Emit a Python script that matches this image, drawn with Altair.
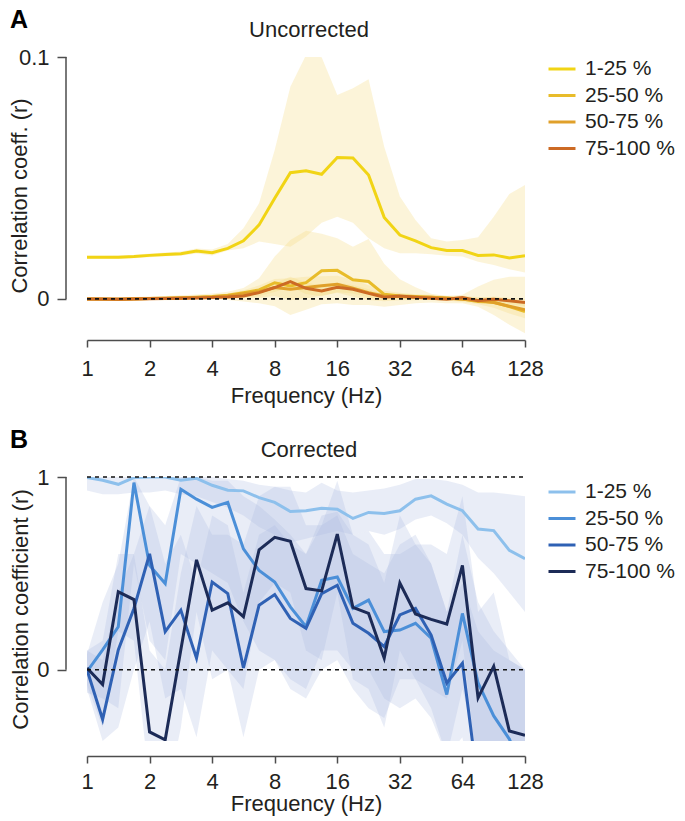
import altair as alt
import pandas as pd

FONT = "Liberation Sans"

FREQ = [1, 1.189, 1.414, 1.682, 2, 2.378, 2.828, 3.364, 4, 4.757, 5.657, 6.727,
        8, 9.514, 11.314, 13.454, 16, 19.027, 22.627, 26.909, 32, 38.055, 45.255,
        53.817, 64, 76.109, 90.510, 107.635, 128]
GROUPS = ["1-25 %", "25-50 %", "50-75 %", "75-100 %"]
X_TICKS = [1, 2, 4, 8, 16, 32, 64, 128]

# ---------- A: Uncorrected ----------
U_R1 = [0.0172, 0.0172, 0.0172, 0.0175, 0.0180, 0.0184, 0.0187, 0.0198, 0.0191, 0.0209, 0.0240, 0.0306, 0.0416, 0.0522, 0.0530,
        0.0515, 0.0585, 0.0583, 0.0512, 0.0337, 0.0264, 0.0240, 0.0212, 0.0200, 0.0200, 0.0180, 0.0182, 0.0169, 0.0178]
U_HI1 = [0.0178, 0.0178, 0.0179, 0.0182, 0.0188, 0.0192, 0.0196, 0.0208, 0.0204, 0.0227, 0.0292, 0.0395, 0.0616, 0.0877, 0.1008,
         0.0999, 0.0843, 0.0871, 0.0908, 0.0629, 0.0423, 0.0326, 0.0251, 0.0237, 0.0244, 0.0255, 0.0340, 0.0434, 0.0471]
U_LO1 = [0.0166, 0.0166, 0.0165, 0.0168, 0.0172, 0.0176, 0.0178, 0.0188, 0.0180, 0.0200, 0.0209, 0.0237, 0.0227, 0.0216, 0.0258,
         0.0315, 0.0340, 0.0315, 0.0251, 0.0209, 0.0189, 0.0189, 0.0185, 0.0178, 0.0175, 0.0154, 0.0140, 0.0123, 0.0109]

U_R2 = [0.0000, 0.0000, -0.0002, 0.0000, 0.0002, 0.0003, 0.0005, 0.0007, 0.0010, 0.0015, 0.0026, 0.0037, 0.0067, 0.0054, 0.0067,
        0.0116, 0.0118, 0.0079, 0.0072, 0.0019, 0.0012, 0.0010, 0.0007, 0.0004, 0.0000, -0.0011, -0.0014, -0.0032, -0.0052]
U_HI2 = [0.0006, 0.0006, 0.0005, 0.0008, 0.0010, 0.0012, 0.0015, 0.0018, 0.0022, 0.0030, 0.0045, 0.0085, 0.0175, 0.0244, 0.0282,
         0.0269, 0.0251, 0.0216, 0.0248, 0.0145, 0.0081, 0.0048, 0.0021, 0.0012, 0.0017, 0.0051, 0.0079, 0.0092, 0.0092]
U_LO2 = [-0.0006, -0.0006, -0.0008, -0.0006, -0.0005, -0.0005, -0.0004, -0.0003, -0.0002, -0.0004, -0.0011, -0.0018, -0.0030, -0.0066, -0.0045,
         -0.0022, -0.0018, -0.0025, -0.0025, -0.0032, -0.0025, -0.0018, -0.0015, -0.0018, -0.0018, -0.0032, -0.0066, -0.0107, -0.0142]

U_R3 = [0.0000, -0.0001, 0.0000, 0.0001, 0.0002, 0.0003, 0.0004, 0.0006, 0.0008, 0.0012, 0.0021, 0.0030, 0.0047, 0.0040, 0.0047,
        0.0054, 0.0061, 0.0044, 0.0026, 0.0012, 0.0010, 0.0007, 0.0007, 0.0003, -0.0001, -0.0007, -0.0015, -0.0030, -0.0045]
U_HI3 = [0.0004, 0.0003, 0.0004, 0.0005, 0.0007, 0.0008, 0.0010, 0.0013, 0.0016, 0.0022, 0.0036, 0.0055, 0.0082, 0.0085, 0.0092,
         0.0094, 0.0096, 0.0079, 0.0056, 0.0034, 0.0026, 0.0019, 0.0017, 0.0013, 0.0011, 0.0008, 0.0007, 0.0000, -0.0010]
U_LO3 = [-0.0004, -0.0005, -0.0004, -0.0003, -0.0003, -0.0002, -0.0002, -0.0001, 0.0000, 0.0002, 0.0006, 0.0005, 0.0012, -0.0005, 0.0002,
         0.0014, 0.0026, 0.0009, -0.0004, -0.0010, -0.0006, -0.0005, -0.0003, -0.0007, -0.0013, -0.0022, -0.0037, -0.0060, -0.0080]

U_R4 = [0.0000, 0.0000, -0.0001, 0.0000, 0.0001, 0.0002, 0.0003, 0.0004, 0.0006, 0.0008, 0.0012, 0.0026, 0.0047, 0.0072, 0.0044,
        0.0033, 0.0048, 0.0040, 0.0023, 0.0007, 0.0012, 0.0007, 0.0003, -0.0001, 0.0006, -0.0007, -0.0001, -0.0008, -0.0015]
U_HI4 = [0.0003, 0.0003, 0.0002, 0.0003, 0.0004, 0.0005, 0.0006, 0.0008, 0.0010, 0.0014, 0.0020, 0.0040, 0.0065, 0.0092, 0.0068,
         0.0055, 0.0068, 0.0058, 0.0040, 0.0020, 0.0022, 0.0015, 0.0010, 0.0006, 0.0014, 0.0004, 0.0010, 0.0005, 0.0000]
U_LO4 = [-0.0003, -0.0003, -0.0004, -0.0003, -0.0002, -0.0001, 0.0000, 0.0000, 0.0002, 0.0002, 0.0004, 0.0012, 0.0029, 0.0050, 0.0020,
         0.0011, 0.0028, 0.0022, 0.0006, -0.0006, 0.0002, -0.0001, -0.0004, -0.0008, -0.0002, -0.0018, -0.0012, -0.0021, -0.0030]

# ---------- B: Corrected ----------
C_R1 = [0.997, 0.983, 0.962, 0.997, 1.0, 1.0, 0.983, 0.993, 0.957, 0.931, 0.928, 0.893, 0.868, 0.821, 0.825,
        0.838, 0.833, 0.785, 0.816, 0.811, 0.825, 0.885, 0.902, 0.859, 0.825, 0.730, 0.722, 0.619, 0.576]
C_HI1 = [1.0, 1.0, 1.0, 1.0, 1.0, 1.0, 1.0, 1.0, 1.0, 0.99, 0.98, 0.96, 0.95, 0.93, 0.92,
         0.97, 0.93, 0.92, 0.93, 0.94, 0.96, 0.99, 0.99, 0.98, 0.96, 0.92, 0.92, 0.91, 0.90]
C_LO1 = [0.93, 0.91, 0.91, 0.92, 0.92, 0.93, 0.91, 0.90, 0.87, 0.84, 0.80, 0.74, 0.70, 0.66, 0.68,
         0.70, 0.72, 0.70, 0.72, 0.70, 0.73, 0.78, 0.80, 0.76, 0.70, 0.58, 0.50, 0.40, 0.30]

C_R2 = [-0.009, 0.103, 0.223, 0.971, 0.541, 0.447, 0.936, 0.885, 0.842, 0.868, 0.627, 0.515, 0.455, 0.326, 0.223,
        0.464, 0.481, 0.318, 0.361, 0.198, 0.206, 0.241, 0.163, -0.129, 0.292, -0.069, -0.240, -0.360, -0.550]
C_HI2 = [0.08, 0.35, 0.55, 1.0, 0.85, 0.75, 1.0, 1.0, 0.98, 0.98, 0.90, 0.85, 0.78, 0.70, 0.60,
         0.80, 0.82, 0.70, 0.72, 0.60, 0.60, 0.65, 0.55, 0.30, 0.70, 0.35, 0.20, 0.10, 0.00]
C_LO2 = [-0.12, -0.15, -0.20, 0.55, 0.15, 0.05, 0.60, 0.55, 0.50, 0.45, 0.25, 0.10, 0.05, -0.05, -0.10,
         0.10, 0.10, 0.00, 0.00, -0.15, -0.20, -0.15, -0.25, -0.45, -0.10, -0.45, -0.60, -0.70, -0.80]

C_R3 = [0.000, -0.258, 0.103, 0.318, 0.601, 0.198, 0.309, 0.060, 0.455, 0.395, 0.009, 0.335, 0.390, 0.266, 0.215,
        0.395, 0.438, 0.241, 0.189, 0.120, 0.284, 0.318, 0.180, -0.069, 0.034, -0.600, -0.700, -0.650, -0.700]
C_HI3 = [0.10, 0.05, 0.40, 0.60, 0.85, 0.55, 0.70, 0.45, 0.80, 0.75, 0.40, 0.70, 0.75, 0.65, 0.60,
         0.75, 0.80, 0.60, 0.55, 0.50, 0.65, 0.70, 0.55, 0.30, 0.45, 0.20, 0.10, 0.05, 0.00]
C_LO3 = [-0.10, -0.37, -0.30, 0.00, 0.25, -0.15, -0.10, -0.35, 0.10, 0.00, -0.35, 0.00, 0.05, -0.10, -0.15,
         0.00, 0.05, -0.10, -0.20, -0.25, -0.05, -0.05, -0.20, -0.45, -0.35, -0.90, -0.90, -0.90, -0.90]

C_R4 = [0.009, -0.077, 0.404, 0.364, -0.323, -0.364, 0.103, 0.570, 0.309, 0.347, 0.275, 0.622, 0.687, 0.667, 0.421,
        0.409, 0.704, 0.323, 0.292, 0.060, 0.450, 0.289, 0.261, 0.237, 0.541, -0.146, 0.017, -0.318, -0.340]
C_HI4 = [0.10, 0.15, 0.60, 0.60, 0.10, 0.00, 0.50, 0.85, 0.70, 0.70, 0.65, 0.90, 0.95, 0.95, 0.75,
         0.75, 0.98, 0.70, 0.65, 0.45, 0.80, 0.65, 0.65, 0.60, 0.90, 0.30, 0.40, 0.05, 0.00]
C_LO4 = [-0.08, -0.30, 0.20, 0.15, -0.60, -0.70, -0.30, 0.30, -0.05, 0.00, -0.10, 0.35, 0.45, 0.40, 0.10,
         0.05, 0.40, -0.05, -0.10, -0.30, 0.10, -0.05, -0.10, -0.15, 0.15, -0.55, -0.40, -0.70, -0.70]

TOP_COLORS = ["#f1d415", "#e8bc2a", "#e0a02a", "#cc6a24"]
BOT_COLORS = ["#8dc0ec", "#4b8fd8", "#2f61b4", "#1c2b57"]

AX = "#4d4d4d"
TXT = "#231f20"
W = 438


def long(rs, los, his):
    rows = []
    for g, r, lo, hi in zip(GROUPS, rs, los, his):
        for f, a, b, c in zip(FREQ, r, lo, hi):
            rows.append({"freq": f, "group": g, "r": a, "lo": b, "hi": c})
    return pd.DataFrame(rows)


def panel(df, ydom, yticks, ytitle, title, letter, colors, band_color, band_op,
          height, x_off, x_lp, x_tp, y_tp, leg_y, dashed_vals):
    xaxis = alt.Axis(values=X_TICKS, format="d", title="Frequency (Hz)", offset=x_off,
                     tickSize=7, labelPadding=x_lp, titlePadding=x_tp, grid=False,
                     labelFlush=False, labelOverlap=False)
    X = alt.X("freq:Q", scale=alt.Scale(type="log", base=2, domain=[1, 128], nice=False), axis=xaxis)
    yscale = alt.Scale(domain=ydom, nice=False, zero=False)
    yaxis = alt.Axis(values=yticks, format="~g", title=ytitle, offset=21, tickSize=9,
                     labelPadding=8, titlePadding=y_tp, domain=False, grid=False)

    bands = alt.Chart(df).mark_area(clip=True, color=band_color, opacity=band_op).encode(
        x=X, y=alt.Y("lo:Q", scale=yscale, axis=yaxis), y2="hi:Q", detail="group:N")
    lines = alt.Chart(df).mark_line(clip=True, strokeWidth=3).encode(
        x=X, y=alt.Y("r:Q", scale=yscale, axis=yaxis),
        color=alt.Color("group:N", scale=alt.Scale(domain=GROUPS, range=colors),
                        legend=alt.Legend(title=None, orient="none", legendX=460, legendY=leg_y,
                                          labelFontSize=21, labelFont=FONT, labelColor=TXT,
                                          symbolType="stroke", symbolSize=729, symbolStrokeWidth=3,
                                          labelOffset=8, rowPadding=1.5)))
    dashed = alt.Chart(pd.DataFrame({"yv": dashed_vals})).mark_rule(
        color="#111111", strokeDash=[4, 4], strokeWidth=1.6).encode(
        x=alt.value(0), x2=alt.value(W), y=alt.Y("yv:Q", scale=yscale, axis=yaxis))
    yline = alt.Chart(pd.DataFrame({"a": [yticks[0]], "b": [yticks[1]]})).mark_rule(
        color=AX, strokeWidth=1.5).encode(
        x=alt.value(-21), y=alt.Y("a:Q", scale=yscale, axis=yaxis), y2="b:Q")
    let = alt.Chart(pd.DataFrame({"t": [letter]})).mark_text(
        align="left", baseline="top", fontSize=25, fontWeight="bold", font=FONT,
        color="#000000").encode(x=alt.value(-77), y=alt.value(-49), text="t:N")
    ttl = alt.Chart(pd.DataFrame({"t": [title]})).mark_text(
        align="center", baseline="top", fontSize=22, font=FONT, color=TXT).encode(
        x=alt.value(W / 2 + 3), y=alt.value(-37), text="t:N")
    return alt.layer(bands, lines, dashed, yline, let, ttl).properties(width=W, height=height)


top = panel(long([U_R1, U_R2, U_R3, U_R4], [U_LO1, U_LO2, U_LO3, U_LO4], [U_HI1, U_HI2, U_HI3, U_HI4]),
            [-0.0145, 0.1], [0, 0.1], "Correlation coeff. (r)", "Uncorrected", "A",
            TOP_COLORS, "#f5dc80", 0.3, 277, 6, 11, 6, -13, -3, [0])
bot = panel(long([C_R1, C_R2, C_R3, C_R4], [C_LO1, C_LO2, C_LO3, C_LO4], [C_HI1, C_HI2, C_HI3, C_HI4]),
            [-0.37, 1.0], [0, 1], "Correlation coefficient (r)", "Corrected", "B",
            BOT_COLORS, "#a9b6e0", 0.25, 264, 15, 8, 1, 4, 0, [0, 1])

chart = alt.vconcat(top, bot, spacing=22, padding={"left": 0, "top": 0, "right": 0, "bottom": 2}).resolve_scale(
    color="independent", x="independent", y="independent"
).configure_view(stroke=None).configure_axis(
    labelFont=FONT, titleFont=FONT, labelFontSize=22, titleFontSize=22, titleFontWeight="normal",
    labelColor=TXT, titleColor=TXT, domainColor=AX, tickColor=AX, domainWidth=1.5, tickWidth=1.5
).configure_legend(labelFont=FONT, labelFontSize=21)

chart.save("out.html", embed_options={"renderer": "svg", "actions": False})
